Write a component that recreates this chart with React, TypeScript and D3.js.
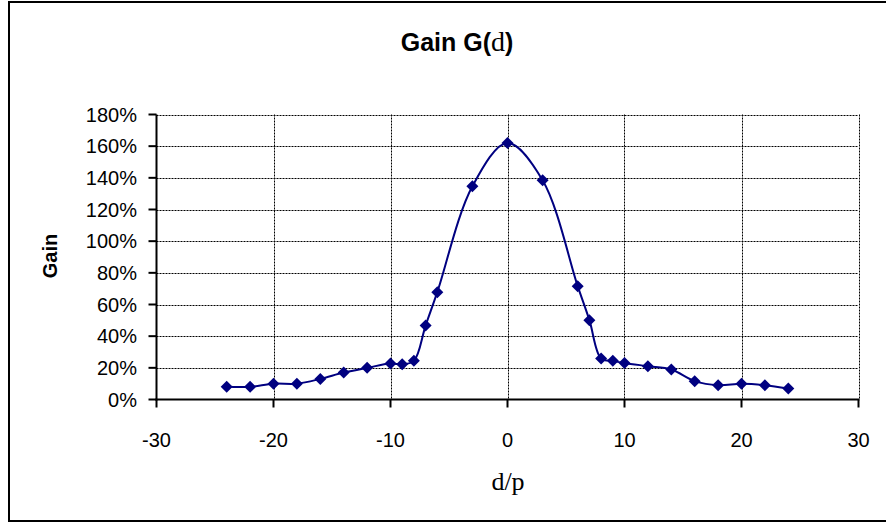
import React from "react";
import * as d3 from "d3";

const xValues = [-24, -22, -20, -18, -16, -14, -12, -10, -9, -8, -7, -6, -3, 0, 3, 6, 7, 8, 9, 10, 12, 14, 16, 18, 20, 22, 24];
const gainValues = [8, 8, 10, 10, 13, 17, 20, 22.7, 22.3, 24.4, 46.7, 67.8, 134.7, 162, 138.5, 71.6, 50.1, 25.9, 24.4, 23.1, 21, 18.9, 11.6, 9, 9.9, 9, 6.9];
const xTicks = [-30, -20, -10, 0, 10, 20, 30];
const yTicks = [0, 20, 40, 60, 80, 100, 120, 140, 160, 180];

const W = 886;
const H = 523;
const left = 156.5;
const right = 858.5;
const top = 114.5;
const bottom = 399.5;

const diamond = {
  draw(ctx: any, size: number) {
    const r = Math.sqrt(size / 2);
    ctx.moveTo(0, -r);
    ctx.lineTo(r, 0);
    ctx.lineTo(0, r);
    ctx.lineTo(-r, 0);
    ctx.closePath();
  },
};

export default function App() {
  const x = d3.scaleLinear().domain([-30, 30]).range([left, right]);
  const y = d3.scaleLinear().domain([0, 180]).range([bottom, top]);
  const data = xValues.map((v, i) => [v, gainValues[i]] as [number, number]);
  const line = d3
    .line<[number, number]>()
    .x((d) => x(d[0]))
    .y((d) => y(d[1]))
    .curve(d3.curveCatmullRom.alpha(0.5));
  const sym = d3.symbol().type(diamond as any).size(72)();
  const sans = "'Liberation Sans', Arial, sans-serif";
  const serif = "'Liberation Serif', 'Times New Roman', serif";

  return (
    <svg width={W} height={H} style={{ position: "absolute", left: 0, top: 0 }}>
      <rect x={0} y={0} width={W} height={H} fill="#fff" />
      <rect x={9} y={2} width={W + 10} height={519} fill="none" stroke="#000" strokeWidth={2} />
      <text x={457} y={51} textAnchor="middle" fontFamily={sans} fontWeight="bold" fontSize={25}>
        Gain G(<tspan fontFamily={serif} fontWeight="normal" fontSize={28}>d</tspan>)
      </text>
      {/* grid */}
      {yTicks.filter((t) => t > 0).map((t) => (
        <line key={"gy" + t} x1={left} x2={right} y1={Math.round(y(t)) + 0.5} y2={Math.round(y(t)) + 0.5} stroke="#000" strokeWidth={1} strokeDasharray="2,1" />
      ))}
      {xTicks.filter((t) => t > -30).map((t) => (
        <line key={"gx" + t} x1={Math.round(x(t)) + 0.5} x2={Math.round(x(t)) + 0.5} y1={top} y2={bottom} stroke="#000" strokeWidth={1} strokeDasharray="2,1" />
      ))}
      {/* axes */}
      <line x1={left} x2={left} y1={top} y2={bottom + 1} stroke="#000" strokeWidth={2} />
      <line x1={left - 1} x2={right + 1} y1={bottom} y2={bottom} stroke="#000" strokeWidth={2} />
      {yTicks.map((t) => (
        <g key={"ty" + t}>
          <line x1={left - 8} x2={left} y1={y(t)} y2={y(t)} stroke="#000" strokeWidth={2} />
          <text x={137} y={y(t) + 7} textAnchor="end" fontFamily={sans} fontSize={20}>
            {t + "%"}
          </text>
        </g>
      ))}
      {xTicks.map((t) => (
        <g key={"tx" + t}>
          <line x1={x(t)} x2={x(t)} y1={bottom} y2={bottom + 8} stroke="#000" strokeWidth={2} />
          <text x={x(t)} y={447} textAnchor="middle" fontFamily={sans} fontSize={20}>
            {t}
          </text>
        </g>
      ))}
      <text x={508} y={490} textAnchor="middle" fontFamily={serif} fontSize={26}>
        d/p
      </text>
      <text transform={`translate(57,256) rotate(-90)`} textAnchor="middle" fontFamily={sans} fontWeight="bold" fontSize={20}>
        Gain
      </text>
      <path d={line(data) || ""} fill="none" stroke="#000080" strokeWidth={2} />
      {data.map((d, i) => (
        <path key={i} d={sym || ""} transform={`translate(${x(d[0])},${y(d[1])})`} fill="#000080" />
      ))}
    </svg>
  );
}
